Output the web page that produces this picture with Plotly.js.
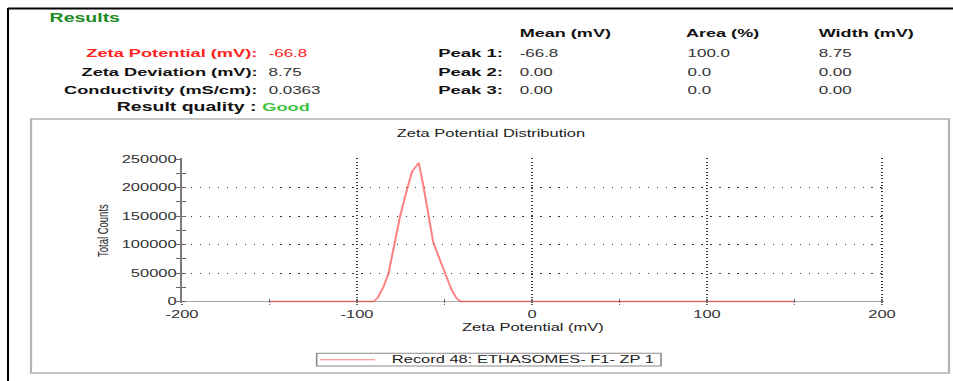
<!DOCTYPE html>
<html>
<head>
<meta charset="utf-8">
<script src="https://cdn.plot.ly/plotly-3.0.1.min.js"></script>
<style>
  html, body { margin: 0; padding: 0; background: #fff; overflow: hidden; }
  #wrap { width: 953px; height: 381px; overflow: hidden; }
  /* the report is drawn at a narrower width and stretched sideways */
  #chart { width: 596px; height: 381px; transform: scaleX(1.59899); transform-origin: 0 0; }
</style>
</head>
<body>
<div id="wrap"><div id="chart"></div></div>
<script>
// ---- measured distribution ----
const zetaMv = [-150, -90.5, -88, -85, -82, -79, -75.5, -71.5, -68.5, -66.5, -64.7, -62, -59.3, -56.5, -53, -49, -46, -43, -40.5, 150];
const totalCounts = [0, 0, 7000, 25000, 49000, 96000, 148000, 196000, 228000, 236000, 243500, 202000, 149000, 105000, 76000, 45000, 21000, 5000, 0, 0];
const recordName = 'Record 48: ETHASOMES- F1- ZP 1';

// ---- results summary ----
const summaryLabels = ['Zeta Potential (mV):', 'Zeta Deviation (mV):', 'Conductivity (mS/cm):'];
const summaryValues = ['-66.8', '8.75', '0.0363'];
const qualityLabel = 'Result quality :';
const qualityValue = 'Good';

// ---- peak table ----
const peakHeaders = ['Mean (mV)', 'Area (%)', 'Width (mV)'];
const peakNames = ['Peak 1:', 'Peak 2:', 'Peak 3:'];
const peakMean = ['-66.8', '0.00', '0.00'];
const peakArea = ['100.0', '0.0', '0.0'];
const peakWidth = ['8.75', '0.00', '0.00'];

// ---- axes ----
const xTicks = [-200, -100, 0, 100, 200];
const yTicks = [0, 50000, 100000, 150000, 200000, 250000];

const W = 953, H = 381;
const px = v => v / W;          // page x -> paper
const py = v => 1 - v / H;      // page y -> paper

const FONT = '"Liberation Sans", Arial, Helvetica, sans-serif';
const lineColor = 'rgba(255,40,40,0.58)';

// plot frame: -200..200 mV spans 182..882 px, 0..250000 counts spans 301.5..159 px
const xRange = [-200, 201];
const yRange = [-2200, 251000];
const xPerPx = 700 / 400, yPerPx = 142.5 / 250000;
const xDomain = [px(182), px(182 + (xRange[1] - xRange[0]) * xPerPx)];
const yDomain = [py(301.5 - yRange[0] * yPerPx), py(301.5 - yRange[1] * yPerPx)];

const traces = [
  {
    type: 'scatter', mode: 'lines', name: recordName,
    x: zetaMv, y: totalCounts,
    line: { color: lineColor, width: 1.3 },
    hoverinfo: 'x+y', showlegend: false
  },
  // empty traces that bring up the outer tick sets
  { type: 'scatter', mode: 'lines', x: [], y: [], xaxis: 'x2', yaxis: 'y', hoverinfo: 'skip', showlegend: false },
  { type: 'scatter', mode: 'lines', x: [], y: [], xaxis: 'x', yaxis: 'y2', hoverinfo: 'skip', showlegend: false }
];

const ann = [];
const txt = (text, x, y, anchor, size, color, bold) => ann.push({
  text: bold ? '<b>' + text + '</b>' : text,
  x: px(x), y: py(y), xref: 'paper', yref: 'paper',
  xanchor: anchor, yanchor: 'middle', showarrow: false,
  font: { family: FONT, size: size, color: color }
});

txt('Results', 47, 18.5, 'left', 12.2, '#1d8a23', true);
const rowY = [52.8, 71.6, 89.8];
const labelColors = ['#ff2222', '#111', '#111'];
summaryLabels.forEach((s, i) => {
  txt(s, 261, rowY[i], 'right', 11.4, labelColors[i], true);
  txt(summaryValues[i], 266, rowY[i], 'left', 10.6, i === 0 ? '#ff2222' : '#333', false);
});
txt(qualityLabel, 259, 107.3, 'right', 12.2, '#111', true);
txt(qualityValue, 259, 107.3, 'left', 11.4, '#3fc43f', true);

const colX = [516, 683, 815];
peakHeaders.forEach((s, i) => txt(s, colX[i], 33.3, 'left', 11.3, '#111', true));
peakNames.forEach((s, i) => {
  txt(s, 507, rowY[i], 'right', 11.6, '#111', true);
  txt(peakMean[i], colX[0] + 1, rowY[i], 'left', 10.6, '#333', false);
  txt(peakArea[i], colX[1] + 1, rowY[i], 'left', 10.6, '#333', false);
  txt(peakWidth[i], colX[2] + 1, rowY[i], 'left', 10.6, '#333', false);
});

// legend entry
txt(recordName, 389, 359.8, 'left', 10.3, '#222', false);

const shapes = [
  // outer report frame (top and left edges)
  { type: 'line', xref: 'paper', yref: 'paper', x0: px(8), x1: 1, y0: py(8.5), y1: py(8.5), line: { color: '#000', width: 2 } },
  { type: 'line', xref: 'paper', yref: 'paper', x0: px(8), x1: px(8), y0: py(8), y1: 0, line: { color: '#000', width: 1.3 } },
  // chart panel
  { type: 'rect', xref: 'paper', yref: 'paper', x0: px(31), x1: px(949), y0: py(373), y1: py(119), line: { color: '#b4b4b4', width: 1.4 } },
  // legend box and swatch
  { type: 'rect', xref: 'paper', yref: 'paper', x0: px(316.7), x1: px(661), y0: py(366), y1: py(353.3), line: { color: '#8a8a8a', width: 1 } },
  { type: 'line', xref: 'paper', yref: 'paper', x0: px(320), x1: px(375), y0: py(359.8), y1: py(359.8), line: { color: lineColor, width: 1.1 } }
];

const tickFont = { family: FONT, size: 10.3, color: '#333' };
const tickBase = { tickwidth: 1, tickcolor: '#666' };
const layout = {
  width: 596, height: 381,
  margin: { l: 0, r: 0, t: 0, b: 0 },
  paper_bgcolor: '#fff', plot_bgcolor: '#fff',
  font: { family: FONT, size: 10.3, color: '#222' },
  showlegend: false,
  title: {
    text: 'Zeta Potential Distribution', xref: 'paper', yref: 'paper',
    x: px(491), y: py(133.5), xanchor: 'center', yanchor: 'middle',
    font: { family: FONT, size: 10.3, color: '#222' }
  },
  xaxis: Object.assign({
    range: xRange, domain: xDomain, anchor: 'y',
    tickmode: 'array', tickvals: xTicks, ticktext: xTicks.map(String),
    ticks: 'inside', ticklen: 3.7,
    minor: { dtick: 50, tick0: -200, ticks: 'inside', ticklen: 3.7, tickwidth: 1, tickcolor: '#666', showgrid: false },
    showgrid: true, gridcolor: '#3a3a3a', gridwidth: 1, griddash: '1px,2.3px',
    zeroline: false, showline: false,
    tickfont: tickFont, ticklabelstandoff: 4,
    title: { text: 'Zeta Potential (mV)', font: { family: FONT, size: 10.3, color: '#222' }, standoff: 4 },
    automargin: false, fixedrange: true
  }, tickBase),
  xaxis2: Object.assign({
    range: xRange, overlaying: 'x', anchor: 'y', side: 'bottom',
    tickmode: 'linear', tick0: -200, dtick: 50,
    ticks: 'outside', ticklen: 1.3,
    showticklabels: false, showgrid: false, zeroline: false, showline: false, fixedrange: true
  }, tickBase),
  yaxis: Object.assign({
    range: yRange, domain: yDomain, anchor: 'x',
    tickmode: 'array', tickvals: yTicks, ticktext: yTicks.map(String),
    ticks: 'inside', ticklen: 2.5,
    minor: { dtick: 25000, tick0: 0, ticks: 'inside', ticklen: 2.5, tickwidth: 1, tickcolor: '#666', showgrid: false },
    showgrid: true, gridcolor: '#3a3a3a', gridwidth: 1, griddash: '0.9px,4.7px',
    zeroline: true, zerolinecolor: '#a8a8a8', zerolinewidth: 1.5,
    showline: true, linecolor: '#7a7a7a', linewidth: 1.3,
    tickfont: tickFont,
    title: { text: 'Total Counts', font: { family: FONT, size: 9.5, color: '#222' }, standoff: 6 },
    automargin: false, fixedrange: true
  }, tickBase),
  yaxis2: Object.assign({
    range: yRange, overlaying: 'y', anchor: 'x', side: 'left',
    tickmode: 'linear', tick0: 0, dtick: 25000,
    ticks: 'outside', ticklen: 2.5,
    showticklabels: false, showgrid: false, zeroline: false, showline: false, fixedrange: true
  }, tickBase),
  annotations: ann,
  shapes: shapes
};

Plotly.newPlot('chart', traces, layout, { displayModeBar: false, staticPlot: true });
</script>
</body>
</html>
